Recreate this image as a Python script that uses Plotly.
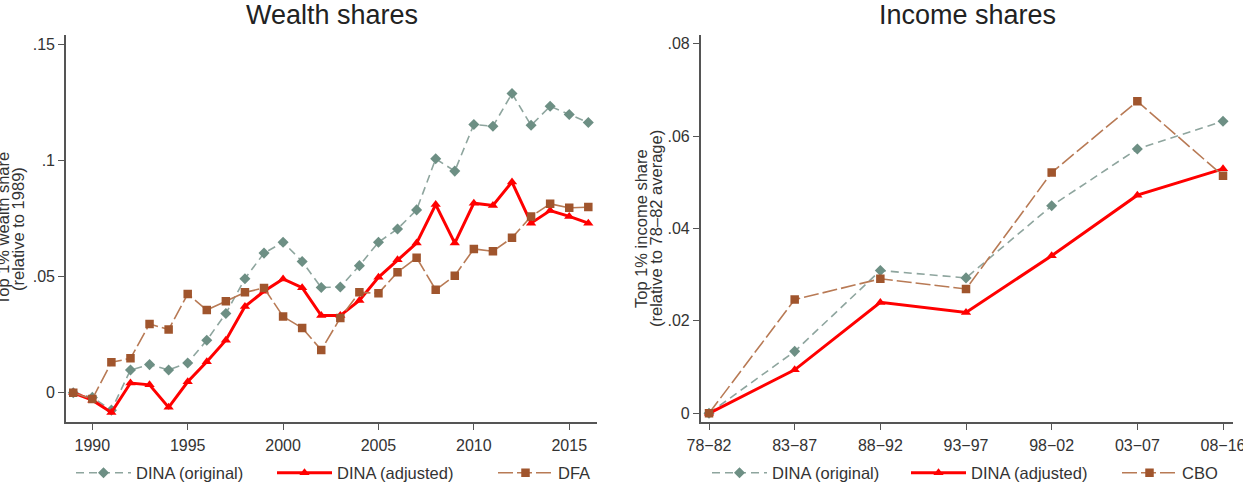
import plotly.graph_objects as go

# ---------------- data ----------------
years = list(range(1989, 2017))
wealth_dina_original = [0.0, -0.0020, -0.0075, 0.0098, 0.0121, 0.0098, 0.0128, 0.0226, 0.0341, 0.0491,
                        0.0601, 0.0648, 0.0565, 0.0453, 0.0455, 0.0547, 0.0648, 0.0705, 0.0787, 0.1007,
                        0.0954, 0.1155, 0.1147, 0.1288, 0.1151, 0.1233, 0.1198, 0.1163]
wealth_dina_adjusted = [0.0, -0.0032, -0.0085, 0.0042, 0.0034, -0.0063, 0.0047, 0.0133, 0.0226, 0.0371,
                        0.0437, 0.0490, 0.0452, 0.0332, 0.0332, 0.0397, 0.0497, 0.0572, 0.0644, 0.0810,
                        0.0644, 0.0816, 0.0806, 0.0907, 0.0730, 0.0784, 0.0759, 0.0730]
wealth_dfa = [0.0, -0.0027, 0.0131, 0.0148, 0.0296, 0.0272, 0.0425, 0.0356, 0.0394, 0.0432,
              0.0451, 0.0328, 0.0279, 0.0184, 0.0322, 0.0432, 0.0428, 0.0519, 0.0581, 0.0443,
              0.0504, 0.0619, 0.0609, 0.0667, 0.0759, 0.0813, 0.0796, 0.0799]

periods = ["78\u221282", "83\u221287", "88\u221292", "93\u221297", "98\u221202", "03\u221207", "08\u221216"]
income_dina_original = [0.0, 0.0134, 0.0309, 0.0293, 0.0449, 0.0572, 0.0632]
income_dina_adjusted = [0.0, 0.0094, 0.0240, 0.0218, 0.0341, 0.0472, 0.0529]
income_cbo = [0.0, 0.0246, 0.0291, 0.0269, 0.0521, 0.0675, 0.0514]

wealth_yticks = [0, 0.05, 0.1, 0.15]
wealth_yticktext = ["0", ".05", ".1", ".15"]
wealth_xticks = [1990, 1995, 2000, 2005, 2010, 2015]
income_yticks = [0, 0.02, 0.04, 0.06, 0.08]
income_yticktext = ["0", ".02", ".04", ".06", ".08"]

# ---------------- styles ----------------
FONT = "Liberation Sans, Arial, sans-serif"
GREEN_M = "#6d8f84"
GREEN_L = "#8ea59e"
RED = "#ff0000"
BROWN_M = "#a0552d"
BROWN_L = "#b87a55"
AXIS = "#555555"
W, H = 1243, 482

def px(x):
    return x / W

def py(y):
    return (H - y) / H

fig = go.Figure()

def add_series(x, y, name, xa, ya, legend, kind):
    if kind == "orig":
        line = dict(color=GREEN_L, width=1.6, dash="8px,5px")
        marker = dict(symbol="diamond", size=8.5, color=GREEN_M)
    elif kind == "adj":
        line = dict(color=RED, width=3)
        marker = dict(symbol="triangle-up", size=9, color=RED)
    else:
        line = dict(color=BROWN_L, width=1.6, dash="15px,4px")
        marker = dict(symbol="square", size=8.5, color=BROWN_M)
    fig.add_trace(go.Scatter(x=x, y=y, name=name, mode="lines+markers", line=line,
                             marker=marker, xaxis=xa, yaxis=ya, legend=legend,
                             showlegend=True, hoverinfo="x+y+name"))

add_series(years, wealth_dina_original, "DINA (original)", "x", "y", "legend", "orig")
add_series(years, wealth_dina_adjusted, "DINA (adjusted)", "x", "y", "legend2", "adj")
add_series(years, wealth_dfa, "DFA", "x", "y", "legend3", "dfa")
add_series(periods, income_dina_original, "DINA (original)", "x2", "y2", "legend4", "orig")
add_series(periods, income_dina_adjusted, "DINA (adjusted)", "x2", "y2", "legend5", "adj")
add_series(periods, income_cbo, "CBO", "x2", "y2", "legend6", "dfa")

axis_common = dict(showline=True, linecolor=AXIS, linewidth=1.6, ticks="outside", ticklen=6,
                   tickcolor=AXIS, tickwidth=1.4, showgrid=False, zeroline=False,
                   tickfont=dict(family=FONT, size=16, color="#333333"), automargin=False)

ydom = [py(421.7), py(34.5)]

fig.update_layout(
    width=W, height=H,
    showlegend=True,
    margin=dict(l=0, r=0, t=0, b=0, autoexpand=False),
    paper_bgcolor="white", plot_bgcolor="white",
    font=dict(family=FONT, size=16, color="#333333"),
    xaxis=dict(domain=[px(66), px(596.7)], range=[1988.62, 2016.44],
               tickvals=wealth_xticks, anchor="y", ticklabelstandoff=2, **axis_common),
    yaxis=dict(domain=ydom, range=[-0.01247, 0.1542], tickvals=wealth_yticks,
               ticktext=wealth_yticktext, anchor="x", **axis_common),
    xaxis2=dict(domain=[px(700.7), px(1233.3)], range=[-0.097, 6.12], type="category",
                anchor="y2", ticklabelstandoff=2, **axis_common),
    yaxis2=dict(domain=ydom, range=[-0.00182, 0.08197], tickvals=income_yticks,
                ticktext=income_yticktext, anchor="x2", **axis_common),
)

# legends: one entry each, placed individually
leg_font = dict(family=FONT, size=16.5, color="#333333")
leg_pos = {"legend": 71, "legend2": 272, "legend3": 493,
           "legend4": 707, "legend5": 906, "legend6": 1117}
for key, xpix in leg_pos.items():
    fig.update_layout(**{key: dict(x=px(xpix), y=py(473), xanchor="left", yanchor="middle",
                                   orientation="h", font=leg_font, itemwidth=55,
                                   bgcolor="rgba(0,0,0,0)", borderwidth=0, visible=True)})

# titles
title_font = dict(family=FONT, size=27, color="#222222")
fig.add_annotation(text="Wealth shares", x=px(331.5), y=py(15), xref="paper", yref="paper",
                   xanchor="center", yanchor="middle", showarrow=False, font=title_font)
fig.add_annotation(text="Income shares", x=px(967), y=py(15), xref="paper", yref="paper",
                   xanchor="center", yanchor="middle", showarrow=False, font=title_font)

# y-axis titles
yt_font = dict(family=FONT, size=16.5, color="#333333")
for text, xx in [("Top 1% wealth share", 3), ("(relative to 1989)", 18),
                 ("Top 1% income share", 641), ("(relative to 78\u201382 average)", 656)]:
    fig.add_annotation(text=text, x=px(xx), y=py(229), xref="paper", yref="paper",
                       xanchor="center", yanchor="middle", textangle=-90, showarrow=False,
                       font=yt_font)

fig.write_html("out.html")
